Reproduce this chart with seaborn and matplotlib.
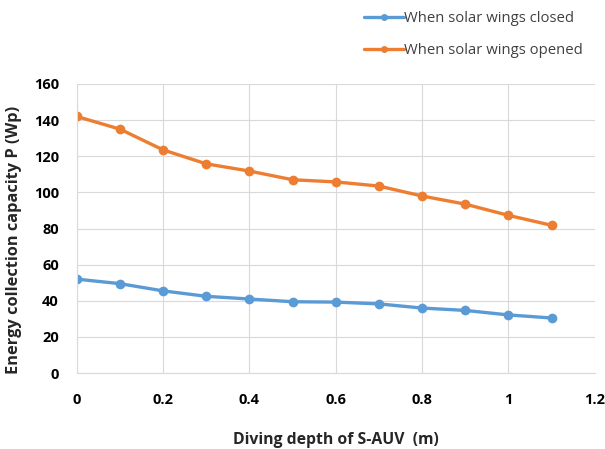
import numpy as np
import pandas as pd
import matplotlib
matplotlib.use("Agg")
import matplotlib.pyplot as plt
from matplotlib.lines import Line2D
import seaborn as sns

depth = [0, 0.1, 0.2, 0.3, 0.4, 0.5, 0.6, 0.7, 0.8, 0.9, 1.0, 1.1]
closed = [52, 49.5, 45.5, 42.5, 41, 39.5, 39.3, 38.3, 36, 34.7, 32.2, 30.5]
opened = [142, 135, 123.5, 115.8, 111.8, 107, 105.8, 103.5, 98, 93.5, 87.3, 81.8]
series_names = ["When solar wings closed", "When solar wings opened"]
x_ticks = [0, 0.2, 0.4, 0.6, 0.8, 1, 1.2]
x_tick_labels = ["0", "0.2", "0.4", "0.6", "0.8", "1", "1.2"]
y_ticks = [0, 20, 40, 60, 80, 100, 120, 140, 160]

df = pd.DataFrame({
    "depth": depth * 2,
    "P": closed + opened,
    "series": [series_names[0]] * len(depth) + [series_names[1]] * len(depth),
})

sns.set_style("white")
plt.rcParams["font.family"] = ["Open Sans", "DejaVu Sans"]

fig = plt.figure(figsize=(6.05, 4.49), dpi=100)
ax = fig.add_axes([0.127, 0.169, 0.856, 0.644])

colors = ["#5B9BD5", "#ED7D31"]
palette = dict(zip(series_names, colors))
sns.lineplot(data=df, x="depth", y="P", hue="series", palette=palette,
             marker="o", markersize=7, markeredgewidth=0, linewidth=2.4,
             ax=ax, legend=False)

ax.set_xlim(0, 1.2)
ax.set_ylim(0, 160)
ax.set_xticks(x_ticks)
ax.set_xticklabels(x_tick_labels)
ax.set_yticks(y_ticks)
ax.grid(True, color="#d9d9d9", linewidth=0.8)
ax.set_axisbelow(True)
for s in ["top", "right"]:
    ax.spines[s].set_visible(False)
for s in ["left", "bottom"]:
    ax.spines[s].set_color("#d9d9d9")
    ax.spines[s].set_linewidth(0.8)
ax.tick_params(axis="x", length=0, labelsize=10.5, pad=14)
ax.tick_params(axis="y", length=0, labelsize=10.5, pad=13)
for lbl in ax.get_xticklabels() + ax.get_yticklabels():
    lbl.set_fontweight("bold")
    lbl.set_color("black")

ax.set_xlabel("Diving depth of S-AUV  (m)", fontsize=11.3, fontweight="bold")
ax.set_ylabel("Energy collection capacity P (Wp)", fontsize=11.8, fontweight="bold")
ax.xaxis.set_label_coords(0.5, -0.205)
ax.yaxis.set_label_coords(-0.105, 0.46)

handles = [Line2D([], [], color=c, linewidth=2.4, marker="o", markersize=5,
                  markeredgewidth=0) for c in colors]
fig.legend(handles, series_names, loc="upper left", bbox_to_anchor=(0.601, 0.975),
           frameon=False, fontsize=10.7, handlelength=2.7, handletextpad=0.05,
           labelspacing=1.15, labelcolor="#404040", borderpad=0, borderaxespad=0)

fig.savefig("out.png", dpi=100)
